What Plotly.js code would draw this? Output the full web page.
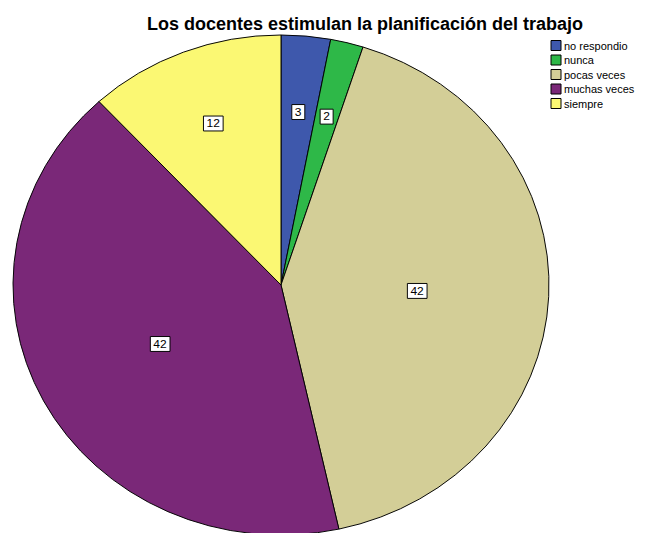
<!DOCTYPE html>
<html>
<head>
<meta charset="utf-8">
<script src="https://cdn.plot.ly/plotly-3.0.1.min.js"></script>
<style>
html,body{margin:0;padding:0;overflow:hidden;background:#fff;}
#chart{width:649px;height:560px;}
</style>
</head>
<body>
<div id="chart"></div>
<script>
const categories = ["no respondio", "nunca", "pocas veces", "muchas veces", "siempre"];
const values = [3, 2, 42, 42, 12];
const colors = ["#3E58AC", "#2EB848", "#D3CE97", "#7A2878", "#FBF873"];
const chartTitle = "Los docentes estimulan la planificación del trabajo";

const W = 649, H = 560;
const cx = 281, cy = 285, r = 268, ry = 250;

const trace = {
  type: "pie",
  labels: categories,
  values: values,
  sort: false,
  direction: "clockwise",
  rotation: 0,
  marker: {colors: colors, line: {color: "#000000", width: 1}},
  textinfo: "value",
  textposition: "inside",
  insidetextorientation: "horizontal",
  insidetextfont: {family: "Liberation Sans, Arial, sans-serif", size: 12, color: "#000000"},
  hoverinfo: "none",
  domain: {
    x: [(cx - r) / W, (cx + r) / W],
    y: [(H - cy - r) / H, (H - cy + r) / H]
  }
};

const layout = {
  width: W,
  height: H,
  margin: {l: 0, r: 0, t: 0, b: 0, pad: 0, autoexpand: false},
  paper_bgcolor: "#ffffff",
  showlegend: true,
  title: {
    text: chartTitle,
    x: 365 / W,
    xanchor: "center",
    y: 1 - 24 / H,
    yanchor: "middle",
    font: {family: "Liberation Sans, Arial, sans-serif", size: 18, color: "#000000", weight: "bold"}
  },
  legend: {
    x: 536 / W,
    xanchor: "left",
    y: 1 - 31 / H,
    yanchor: "top",
    font: {family: "Liberation Sans, Arial, sans-serif", size: 11, color: "#000000"},
    bgcolor: "rgba(0,0,0,0)",
    itemwidth: 30,
    tracegroupgap: 0
  }
};

Plotly.newPlot("chart", [trace], layout, {staticPlot: true, displayModeBar: false}).then(function (gd) {
  const svgNS = "http://www.w3.org/2000/svg";
  const cd0 = (gd.calcdata && gd.calcdata[0] && gd.calcdata[0][0]) || {};
  const pcx = cd0.cx || cx, pcy = cd0.cy || cy, pr = cd0.r || r;
  const tr = /^\s*translate\(\s*([-\d.eE]+)[ ,]+([-\d.eE]+)\s*\)/;
  // boxed value labels, placed on Plotly's own text positions
  gd.querySelectorAll(".pielayer g.slice").forEach(function (slice) {
    const txt = slice.querySelector("text.slicetext");
    if (!txt) return;
    let t = txt.getAttribute("transform") || "";
    // SPSS keeps labels of thin slices further inside the pie
    const m = tr.exec(t);
    if (m) {
      const x = parseFloat(m[1]), y = parseFloat(m[2]);
      const dx = x - pcx, dy = y - pcy, d = Math.sqrt(dx * dx + dy * dy);
      const lim = 0.68 * pr;
      if (d > lim) {
        const k = lim / d;
        t = t.replace(tr, "translate(" + (pcx + dx * k) + "," + (pcy + dy * k) + ")");
        txt.setAttribute("transform", t);
      }
    }
    const bb = txt.getBBox();
    const rect = document.createElementNS(svgNS, "rect");
    rect.setAttribute("x", bb.x - 3);
    rect.setAttribute("y", bb.y - 1);
    rect.setAttribute("width", bb.width + 6);
    rect.setAttribute("height", bb.height + 2);
    rect.setAttribute("fill", "#ffffff");
    rect.setAttribute("stroke", "#000000");
    rect.setAttribute("stroke-width", "1");
    if (t) rect.setAttribute("transform", t);
    txt.parentNode.insertBefore(rect, txt);
  });
  // SPSS draws the pie slightly elliptical: squash vertically about its centre
  const layer = gd.querySelector(".pielayer");
  if (layer) {
    const s = ry / r;
    layer.setAttribute("transform", "translate(0," + (cy * (1 - s)) + ") scale(1," + s + ")");
  }
  // tighter SPSS-like legend spacing
  const items = gd.querySelectorAll(".legend g.traces");
  let y0 = null;
  items.forEach(function (g) {
    const m = /translate\(\s*([-\d.]+)[ ,]+([-\d.]+)\s*\)/.exec(g.getAttribute("transform") || "");
    if (!m) return;
    const x = parseFloat(m[1]), y = parseFloat(m[2]);
    if (y0 === null) y0 = y;
    g.setAttribute("transform", "translate(" + x + "," + (y0 + (y - y0) * 14.5 / 19) + ")");
    const lt = g.querySelector("text.legendtext");
    if (lt) lt.setAttribute("x", 28);
    const sw = g.querySelector(".legendpoints path");
    if (sw) sw.setAttribute("d", "M5,5H-5V-5H5Z");
  });
});
</script>
</body>
</html>
